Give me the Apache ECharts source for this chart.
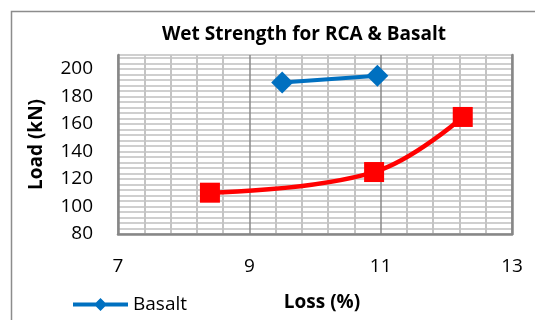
<!DOCTYPE html>
<html>
<head>
<meta charset="utf-8">
<script src="https://cdn.jsdelivr.net/npm/echarts@6/dist/echarts.min.js"></script>
<style>
  html, body { margin: 0; padding: 0; background: #fff; }
  #chart { width: 535px; height: 320px; }
</style>
</head>
<body>
<div id="chart"></div>
<script>
// Wet strength test results: load against loss percentage
const chartTitle = 'Wet Strength for RCA & Basalt';
const xAxisTitle = 'Loss (%)';
const yAxisTitle = 'Load (kN)';

const basaltLoss = [9.5, 10.95];
const basaltLoad = [190, 195];

const rcaLoss = [8.4, 10.9, 12.25];
const rcaLoad = [110, 125, 165];

const xTicks = [7, 9, 11, 13];
const yTicks = [80, 100, 120, 140, 160, 180, 200];

const pairs = (xs, ys) => xs.map((x, i) => [x, ys[i]]);

// Legend marker: thick line with a diamond in the middle (55 x 13 box)
const lineDiamondIcon = 'path://M0,4.5 L55,4.5 L55,8.5 L0,8.5 Z M27.5,0 L34,6.5 L27.5,13 L21,6.5 Z';

const FONT = 'Open Sans';
const chart = echarts.init(document.getElementById('chart'), null, { renderer: 'canvas' });

chart.setOption({
  animation: false,
  backgroundColor: '#ffffff',
  title: {
    text: chartTitle,
    left: 157,
    top: 20,
    textStyle: { fontFamily: FONT, fontSize: 19, fontWeight: 'bold', color: '#000' }
  },
  graphic: [{
    type: 'rect',
    shape: { x: 11.5, y: 11.5, width: 600, height: 400 },
    style: { fill: 'none', stroke: '#8c8c8c', lineWidth: 1.5 },
    silent: true
  }],
  legend: {
    left: 68,
    top: 290,
    itemWidth: 55,
    itemHeight: 13,
    itemGap: 6,
    data: [{ name: 'Basalt', icon: lineDiamondIcon }],
    textStyle: { fontFamily: FONT, fontSize: 19, color: '#000' }
  },
  grid: { left: 118, top: 55, width: 394, height: 179, containLabel: false },
  xAxis: {
    type: 'value',
    min: xTicks[0],
    max: xTicks[xTicks.length - 1],
    interval: 2,
    name: xAxisTitle,
    nameLocation: 'middle',
    nameGap: 59,
    nameTextStyle: { fontFamily: FONT, fontSize: 19, fontWeight: 'bold', color: '#000', padding: [0, 0, 0, 14] },
    axisLine: { show: true, lineStyle: { color: '#878787', width: 2.5 } },
    axisTick: { show: false },
    axisLabel: {
      margin: 23,
      fontFamily: FONT, fontSize: 19, color: '#000',
      formatter: v => (xTicks.includes(v) ? String(v) : '')
    },
    splitLine: { show: true, lineStyle: { color: '#8a8a8a', width: 1.5 } },
    minorTick: { show: false, splitNumber: 5 },
    minorSplitLine: { show: true, lineStyle: { color: '#c4c4c4', width: 2 } }
  },
  yAxis: [{
    type: 'value',
    min: 80,
    max: 210,
    interval: 4,
    name: yAxisTitle,
    nameLocation: 'middle',
    nameGap: 72,
    nameTextStyle: { fontFamily: FONT, fontSize: 19, fontWeight: 'bold', color: '#000' },
    axisLine: { show: true, lineStyle: { color: '#878787', width: 2.5 } },
    axisTick: { show: false },
    axisLabel: {
      interval: 0,
      margin: 25,
      fontFamily: FONT, fontSize: 19, color: '#000',
      formatter: v => (yTicks.includes(v) ? String(v) : '')
    },
    splitLine: { show: true, lineStyle: { color: '#bfbfbf', width: 1.6 } }
  }, {
    type: 'value',
    position: 'right',
    min: 80,
    max: 210,
    interval: 4,
    axisLine: { show: true, onZero: false, lineStyle: { color: '#878787', width: 2.5 } },
    axisTick: { show: false },
    axisLabel: { show: false },
    splitLine: { show: false }
  }],
  series: [{
    name: 'Basalt',
    type: 'line',
    data: pairs(basaltLoss, basaltLoad),
    symbol: 'diamond',
    symbolSize: 22,
    lineStyle: { color: '#0070c0', width: 4 },
    itemStyle: { color: '#0070c0' },
    z: 3
  }, {
    name: 'RCA',
    type: 'line',
    data: pairs(rcaLoss, rcaLoad),
    smooth: 0.4,
    symbol: 'rect',
    symbolSize: 20,
    lineStyle: { color: '#ff0000', width: 4.5 },
    itemStyle: { color: '#ff0000' },
    z: 3
  }]
});
</script>
</body>
</html>
